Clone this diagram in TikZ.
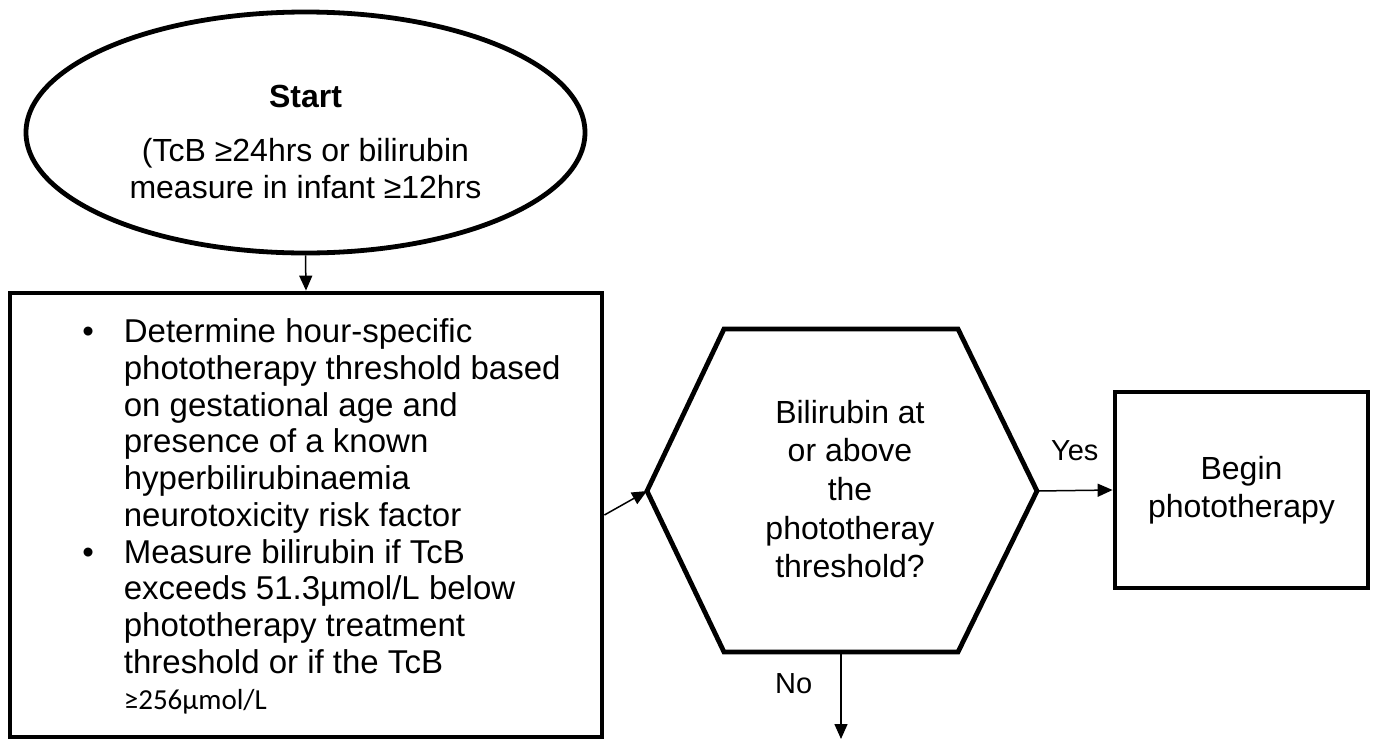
\documentclass[tikz,border=0pt]{standalone}
\usepackage{fontspec}
\setmainfont{Liberation Sans}
\newfontfamily\calibrifont{Carlito}
\usetikzlibrary{shapes.geometric, arrows.meta}

\begin{document}
\begin{tikzpicture}[x=0.5pt, y=-0.5pt, >={Triangle[length=7.5pt, width=6.5pt]}]
	\tikzstyle{every node}=[inner sep=1pt, align=center]
	\tikzstyle{frame}=[draw, line width=2.4pt]
	\tikzstyle{flow}=[->, line width=0.75pt]
	\useasboundingbox (0,0) rectangle (1378,740);
	\node[ellipse, frame, minimum width=279.5pt, minimum height=120.5pt, inner sep=0pt] (start) at (305.5,132.5) {};
	\node[anchor=north, font=\fontsize{16}{18.5}\selectfont] (starttext) at (305.5,83) {\textbf{Start}\\[8.5pt] (TcB ≥24hrs or bilirubin\\ measure in infant ≥12hrs};
	\node[frame, minimum width=296pt, minimum height=222pt, inner sep=0pt] (steps) at (306,515) {};
	\node[anchor=north west, inner sep=0pt, align=left, font=\fontsize{16.5}{18.35}\selectfont] (stepstext) at (82,318.5) {%
		\makebox[20.75pt][l]{•}Determine hour-specific\\
		\hspace*{20.75pt}phototherapy threshold based\\
		\hspace*{20.75pt}on gestational age and\\
		\hspace*{20.75pt}presence of a known\\
		\hspace*{20.75pt}hyperbilirubinaemia\\
		\hspace*{20.75pt}neurotoxicity risk factor\\
		\makebox[20.75pt][l]{•}Measure bilirubin if TcB\\
		\hspace*{20.75pt}exceeds 51.3µmol/L below\\
		\hspace*{20.75pt}phototherapy treatment\\
		\hspace*{20.75pt}threshold or if the TcB\\
		\hspace*{20.75pt}{\calibrifont\fontsize{14.5}{18.35}\selectfont ≥256µmol/L}};
	% decision hexagon
	\coordinate (hexL) at (647,491);
	\coordinate (hexR) at (1037,491);
	\coordinate (hexB) at (841,652);
	\draw[frame] (724,329) -- (958,329) -- (hexR) -- (958,652) -- (724,652) -- (hexL) -- cycle;
	\node[anchor=north, font=\fontsize{16}{19.35}\selectfont] (decision) at (850,397.5) {Bilirubin at\\ or above\\ the\\ phototheray\\ threshold?};
	\node[frame, minimum width=126.5pt, minimum height=98pt, inner sep=0pt, font=\fontsize{16}{19}\selectfont] (begin) at (1241.5,490) {Begin\\ phototherapy};
	\coordinate (noend) at (841,739);
	\draw[flow] (start.south) -- (steps.north);
	\draw[flow] (steps.east) -- (hexL);
	\draw[flow] (hexR) -- (begin.west) node[midway, above=13.5pt, font=\fontsize{14.5}{17}\selectfont] {Yes};
	\draw[flow] (hexB) -- (noend) node[pos=0.36, left=13pt, font=\fontsize{14.5}{17}\selectfont] {No};
\end{tikzpicture}
\end{document}
